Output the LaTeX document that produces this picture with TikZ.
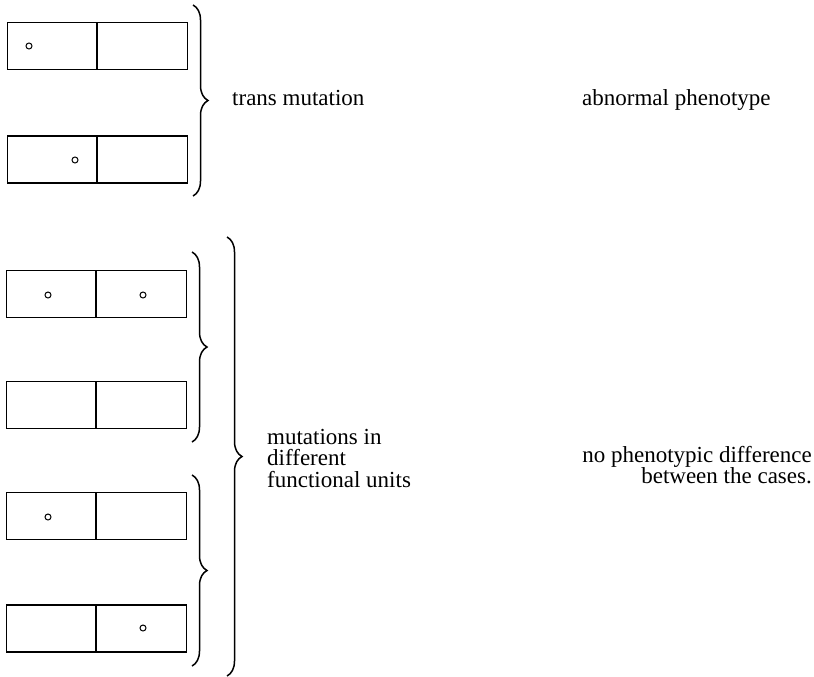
\documentclass[tikz,border=0pt]{standalone}
\usepackage{fontspec}
\setmainfont{Liberation Serif}
\usetikzlibrary{decorations.pathreplacing}
\tikzset{
	half node/.style={rectangle, draw, line width=1.1pt, minimum width=89.5pt, minimum height=47pt, inner sep=0},
	site node/.style={circle, draw, line width=1pt, inner sep=0, minimum size=6pt},
	brace line/.style={decorate, decoration={brace, amplitude=15pt}, line width=1.5pt},
	label text/.style={font=\fontsize{23}{21.5}\selectfont, inner sep=0},
}

\begin{document}
\begin{tikzpicture}[x=1pt, y=-1pt]
\useasboundingbox (0,0) rectangle (814,677);

% gene pairs, left half and right half
\node[half node] (a1) at (52,46) {};
\node[half node, anchor=west] (b1) at (a1.east) {};
\node[half node] (a2) at (52,159.5) {};
\node[half node, anchor=west] (b2) at (a2.east) {};
\node[half node] (a3) at (51,294) {};
\node[half node, anchor=west] (b3) at (a3.east) {};
\node[half node] (a4) at (51,405) {};
\node[half node, anchor=west] (b4) at (a4.east) {};
\node[half node] (a5) at (51,516) {};
\node[half node, anchor=west] (b5) at (a5.east) {};
\node[half node] (a6) at (51,628.5) {};
\node[half node, anchor=west] (b6) at (a6.east) {};

% mutation sites
\node[site node] (m1) at (29,46) {};
\node[site node] (m2) at (75,160) {};
\node[site node] (m3) at (48,295) {};
\node[site node] (m4) at (143,295) {};
\node[site node] (m5) at (48,517) {};
\node[site node] (m6) at (143,628) {};

% braces
\draw[brace line] (193,5) -- (193,196);
\draw[brace line] (192,252) -- (192,442);
\draw[brace line] (192,475) -- (192,666);
\draw[brace line, decoration={amplitude=15pt}] (227,237) -- (227,676);

% texts
\node[label text, anchor=base west] (trans) at (232,105) {trans mutation};
\node[label text, anchor=base west] (abn) at (582,105) {abnormal phenotype};
\node[label text, anchor=north west, align=left] (units) at (267,429) {mutations in\\different\\functional units};
\node[label text, anchor=north east, align=right] (nodiff) at (812,446) {no phenotypic difference\\between the cases.};

\end{tikzpicture}
\end{document}
